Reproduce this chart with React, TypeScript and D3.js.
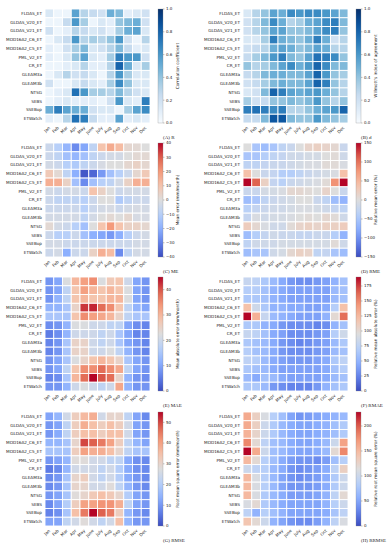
import React from "react";
import * as d3 from "d3";

const rows = ["FLDAS_ET","GLDAS_V20_ET","GLDAS_V21_ET","MOD16A2_C6_ET","MOD16A2_C5_ET","PML_V2_ET","CR_ET","GLEAM3a","GLEAM3b","NTSG","SEBS","SSEBop","ETWatch"];
const months = ["Jan","Feb","Mar","Apr","May","June","July","Aug","Sep","Oct","Nov","Dec"];

const rData = [
  [0.15,0.05,0.05,0.55,0.3,0.25,0.2,0.5,0.45,0.1,0.15,0.2],
  [0.05,0.05,0.25,0.6,0.35,0.05,0.15,0.1,0.4,0.45,0.5,0.2],
  [0.2,0.05,0.1,0.3,0.25,0.15,0.2,0.1,0.35,0.5,0.55,0.15],
  [0.05,0.15,0.25,0.6,0.3,0.35,0.3,0.4,0.6,0.2,0.05,0.3],
  [0.1,0.05,0.2,0.35,0.45,0.15,0.2,0.3,0.45,0.25,0.1,0.15],
  [0.1,0.05,0.15,0.4,0.55,0.15,0.1,0.35,0.7,0.6,0.6,0.2],
  [0.05,0.05,0.1,0.15,0.3,0.1,0.1,0.3,0.8,0.5,0.15,0.35],
  [0.05,0.15,0.3,0.2,0.25,0.15,0.05,0.3,0.6,0.35,0.15,0.15],
  [0.2,0.05,0.05,0.15,0.25,0.15,0.1,0.35,0.65,0.4,0.15,0.15],
  [0.05,0.1,0.15,0.75,0.6,0.35,0.35,0.3,0.45,0.3,0.2,0.15],
  [0.05,0.1,0.15,0.1,0.1,0.1,0.05,0.2,0.6,0.15,0.1,0.7],
  [0.5,0.7,0.55,0.5,0.5,0.2,0.15,0.15,0.05,0.35,0.55,0.65],
  [0.1,0.05,0.3,0.75,0.7,0.25,0.1,0.1,0.55,0.1,0.15,0.1],
];
const dData = [
  [0.15,0.3,0.4,0.55,0.5,0.65,0.6,0.65,0.65,0.6,0.55,0.45],
  [0.2,0.3,0.45,0.65,0.5,0.3,0.35,0.5,0.55,0.65,0.7,0.45],
  [0.2,0.3,0.4,0.55,0.55,0.4,0.4,0.45,0.55,0.65,0.7,0.4],
  [0.15,0.15,0.35,0.7,0.5,0.45,0.4,0.5,0.7,0.5,0.2,0.3],
  [0.2,0.25,0.3,0.5,0.55,0.5,0.4,0.45,0.55,0.5,0.3,0.3],
  [0.25,0.35,0.45,0.6,0.7,0.45,0.4,0.55,0.75,0.7,0.65,0.4],
  [0.4,0.3,0.35,0.45,0.55,0.65,0.5,0.6,0.8,0.65,0.45,0.45],
  [0.25,0.3,0.45,0.5,0.5,0.45,0.45,0.55,0.8,0.6,0.4,0.35],
  [0.2,0.25,0.35,0.45,0.5,0.45,0.45,0.55,0.8,0.7,0.4,0.3],
  [0.15,0.2,0.45,0.8,0.7,0.55,0.5,0.55,0.6,0.5,0.4,0.3],
  [0.35,0.2,0.25,0.4,0.4,0.45,0.4,0.45,0.6,0.4,0.3,0.4],
  [0.7,0.75,0.7,0.65,0.7,0.3,0.3,0.4,0.5,0.55,0.6,0.8],
  [0.25,0.25,0.45,0.85,0.85,0.45,0.4,0.4,0.6,0.45,0.4,0.35],
];
const meData = [
  [-5,-10,-18,-28,-22,-8,10,16,12,3,2,0],
  [-5,-8,-15,-18,-15,-8,-5,-3,-3,0,2,2],
  [-3,-5,-10,-12,-8,-5,-2,0,0,3,5,3],
  [8,2,-8,-20,-38,-35,-25,-15,-10,-5,3,8],
  [15,15,5,-15,-28,-15,-10,-8,-3,5,15,15],
  [-3,-5,-3,-3,-5,10,5,0,-5,-3,-3,-3],
  [-5,-8,-8,-8,-10,-5,0,0,-12,-8,-5,-5],
  [-5,-5,-5,-5,-10,-5,-3,-2,-5,-3,-2,-3],
  [-3,-3,-3,-3,-8,-3,0,2,0,3,-2,-2],
  [2,-3,-5,-10,-15,0,10,20,10,5,5,3],
  [-5,-10,-10,-5,-15,-20,-22,-25,-20,-10,-5,-3],
  [-3,-3,-5,-5,-5,-5,-5,-5,-5,-5,-3,-3],
  [-5,-3,-20,-5,-5,5,15,12,-28,-8,-3,-3],
];
const rmeData = [
  [0,-50,-60,-50,-30,-20,0,15,20,15,10,-20],
  [-50,-50,-40,-30,-25,-15,-15,-10,-10,0,5,-15],
  [-30,-30,-25,-20,-20,-15,-10,-5,-5,5,5,-5],
  [40,0,-20,-25,-40,-40,-30,-20,-15,-10,-5,40],
  [150,110,20,-25,-35,-20,-15,-10,-5,5,80,150],
  [-20,-20,-10,-10,-5,10,10,5,0,15,0,-20],
  [-60,-50,-30,-20,-15,-10,0,0,-20,-30,-60,-70],
  [-35,-25,-20,-15,-15,-10,-5,-5,-10,-15,-25,-30],
  [-25,-5,-15,-10,-10,-5,0,5,0,10,5,-15],
  [25,10,-5,-15,-15,5,15,20,15,20,20,25],
  [-60,-40,-25,-15,-20,-20,-25,-25,-20,-20,-40,-70],
  [-30,-15,-15,-15,-10,-10,-10,-10,-10,-10,5,-15],
  [-60,-50,-50,-15,-10,10,20,15,-30,-25,-50,-60],
];
const maeData = [
  [8,10,22,30,33,35,22,27,28,20,10,8],
  [8,10,18,28,33,30,28,30,28,22,10,8],
  [8,12,18,28,30,28,28,30,30,22,10,8],
  [12,12,15,25,42,43,38,35,28,18,12,10],
  [15,15,15,28,35,33,32,30,25,18,15,15],
  [7,8,12,22,22,20,20,18,18,10,7,6],
  [5,7,12,20,20,20,18,20,15,10,6,6],
  [6,8,15,25,25,20,18,20,15,10,8,6],
  [6,8,15,25,25,20,20,22,18,12,8,6],
  [8,10,15,22,25,28,30,28,25,15,10,8],
  [8,10,18,28,35,35,38,35,32,18,10,8],
  [6,7,15,30,38,45,40,38,25,12,8,7],
  [8,8,12,20,22,20,18,20,32,12,8,8],
];
const rmaeData = [
  [80,75,65,55,45,35,30,30,35,40,50,60],
  [70,70,60,50,45,40,40,40,40,40,55,60],
  [65,65,60,50,45,40,40,40,40,40,55,60],
  [120,85,65,50,50,45,45,40,40,45,70,120],
  [190,130,80,55,50,45,40,40,40,50,100,160],
  [65,65,50,45,35,30,30,30,25,30,50,60],
  [80,75,60,45,40,30,30,30,35,40,70,85],
  [65,60,55,45,35,30,25,30,35,40,55,65],
  [70,60,55,45,35,30,30,30,35,40,55,60],
  [75,70,55,45,40,35,35,35,40,45,65,75],
  [65,60,55,45,40,40,40,40,40,45,60,70],
  [55,45,60,55,45,40,40,40,40,45,55,60],
  [65,65,55,35,30,25,25,25,35,50,60,65],
];
const rmseData = [
  [12,15,25,32,36,38,25,30,30,22,12,8],
  [10,12,22,32,38,35,32,35,32,25,12,10],
  [10,13,22,32,35,35,32,35,35,25,12,10],
  [15,15,18,30,50,48,45,40,32,22,15,12],
  [18,18,18,32,40,38,38,35,30,22,18,18],
  [10,12,15,28,28,25,25,22,22,13,9,8],
  [6,8,15,25,25,25,22,25,20,13,9,8],
  [8,10,18,30,32,25,22,25,20,13,10,8],
  [8,10,18,30,30,25,25,28,22,15,10,8],
  [10,12,18,28,30,33,35,33,30,20,12,10],
  [8,12,20,32,40,40,42,42,38,22,12,10],
  [7,9,18,35,45,55,48,45,32,15,10,8],
  [12,12,22,25,28,25,22,25,35,15,10,10],
];
const rrmseData = [
  [160,130,110,85,70,50,40,45,50,55,60,65],
  [160,130,100,80,65,55,50,50,55,60,70,80],
  [155,125,100,80,65,55,50,50,55,60,70,80],
  [180,120,90,70,65,55,50,50,55,65,100,165],
  [228,160,100,70,65,55,50,50,55,65,120,180],
  [150,120,85,70,55,45,40,40,35,45,70,85],
  [100,90,85,65,55,40,35,40,45,55,90,130],
  [150,110,85,65,50,40,35,40,45,55,80,100],
  [150,110,85,65,50,40,40,40,45,55,80,100],
  [150,110,80,65,55,45,45,45,50,60,90,120],
  [110,120,80,65,55,50,50,50,50,60,85,100],
  [90,60,85,70,60,50,50,50,50,55,75,90],
  [140,120,100,60,50,40,35,35,45,60,90,110],
];

const blues = ["#f7fbff","#deebf7","#c6dbef","#9ecae1","#6baed6","#4292c6","#2171b5","#08519c","#08306b"];
const coolwarm = ["#3b4cc0","#6282ea","#8db0fe","#b8d0f9","#dddddd","#f5c4ad","#f49a7b","#de604d","#b40426"];

const panels = [
  { data: rData, domain: [0, 1], ticks: [0, 0.2, 0.4, 0.6, 0.8, 1.0], fmt: (v: number) => v.toFixed(1), cmap: blues, label: "Correlation coefficient", caption: "(A) R", col: 0, row: 0 },
  { data: dData, domain: [0, 1], ticks: [0, 0.2, 0.4, 0.6, 0.8, 1.0], fmt: (v: number) => v.toFixed(1), cmap: blues, label: "Willmott's index of agreement", caption: "(B) d", col: 1, row: 0 },
  { data: meData, domain: [-40, 40], ticks: [-40, -30, -20, -10, 0, 10, 20, 30, 40], fmt: (v: number) => String(v).replace("-", "\u2212"), cmap: coolwarm, label: "Mean error (mm/month)", caption: "(C) ME", col: 0, row: 1 },
  { data: rmeData, domain: [-150, 150], ticks: [-150, -100, -50, 0, 50, 100, 150], fmt: (v: number) => String(v).replace("-", "\u2212"), cmap: coolwarm, label: "Relative mean error (%)", caption: "(D) RME", col: 1, row: 1 },
  { data: maeData, domain: [0, 45], ticks: [0, 10, 20, 30, 40], fmt: (v: number) => String(v), cmap: coolwarm, label: "Mean absolute error (mm/month)", caption: "(E) MAE", col: 0, row: 2 },
  { data: rmaeData, domain: [0, 190], ticks: [0, 25, 50, 75, 100, 125, 150, 175], fmt: (v: number) => String(v), cmap: coolwarm, label: "Relative mean absolute error (%)", caption: "(F) RMAE", col: 1, row: 2 },
  { data: rmseData, domain: [0, 55], ticks: [0, 10, 20, 30, 40, 50], fmt: (v: number) => String(v), cmap: coolwarm, label: "Root mean square error (mm/month)", caption: "(G) RMSE", col: 0, row: 3 },
  { data: rrmseData, domain: [0, 228], ticks: [0, 50, 100, 150, 200], fmt: (v: number) => String(v), cmap: coolwarm, label: "Relative root mean square error (%)", caption: "(H) RRMSE", col: 1, row: 3 },
];

const gridX = [45, 243];
const gridY = [9, 143, 277, 412];
const gridW = 105;
const gridH = 114;
const cbOffset = 113;
const cbW = 5;
const font = "DejaVu Sans, sans-serif";

function Panel({ p, idx }: { p: any; idx: number }) {
  const x0 = gridX[p.col];
  const y0 = gridY[p.row];
  const xs = d3.scaleBand().domain(months).range([x0, x0 + gridW]);
  const ys = d3.scaleBand().domain(rows).range([y0, y0 + gridH]);
  const interp = d3.piecewise(d3.interpolateRgb, p.cmap);
  const color = d3.scaleSequential(interp).domain(p.domain);
  const cbX = x0 + cbOffset;
  const cbScale = d3.scaleLinear().domain(p.domain).range([y0 + gridH, y0]);
  const gid = "cb" + idx;
  const stops = d3.range(0, 1.0001, 0.05);
  return (
    <g>
      {rows.map((r, i) =>
        months.map((m, j) => (
          <rect key={r + m} x={xs(m)} y={ys(r)} width={xs.bandwidth()} height={ys.bandwidth()}
            fill={color(p.data[i][j])} stroke="#fff" strokeWidth={0.9} />
        ))
      )}
      {rows.map((r) => (
        <text key={r} x={x0 - 3} y={(ys(r) as number) + ys.bandwidth() / 2} dy="0.35em"
          textAnchor="end" fontSize={4.2} fontFamily={font} fill="#222">{r}</text>
      ))}
      {months.map((m) => {
        const cx = (xs(m) as number) + xs.bandwidth() / 2;
        const cy = y0 + gridH + 4;
        return (
          <text key={m} x={cx} y={cy} transform={`rotate(-45 ${cx} ${cy})`} textAnchor="end" dy="0.35em"
            fontSize={4.2} fontFamily={font} fill="#222">{m}</text>
        );
      })}
      <defs>
        <linearGradient id={gid} x1="0" y1="1" x2="0" y2="0">
          {stops.map((t) => (
            <stop key={t} offset={t} stopColor={interp(t)} />
          ))}
        </linearGradient>
      </defs>
      <rect x={cbX} y={y0} width={cbW} height={gridH} fill={`url(#${gid})`} stroke="#888" strokeWidth={0.3} />
      {p.ticks.map((t: number) => (
        <g key={t}>
          <line x1={cbX + cbW} x2={cbX + cbW + 1.5} y1={cbScale(t)} y2={cbScale(t)} stroke="#333" strokeWidth={0.3} />
          <text x={cbX + cbW + 3} y={cbScale(t)} dy="0.35em" fontSize={4} fontFamily={font} fill="#222">{p.fmt(t)}</text>
        </g>
      ))}
      <text x={cbX + 21} y={y0 + gridH / 2} transform={`rotate(-90 ${cbX + 21} ${y0 + gridH / 2})`}
        textAnchor="middle" fontSize={4.2} fontFamily={font} fill="#222">{p.label}</text>
      <text x={x0 + 118} y={y0 + gridH + 16} fontSize={5} fontFamily="Liberation Serif, serif" fill="#222">{p.caption}</text>
    </g>
  );
}

export default function App() {
  return (
    <svg width={392} height={550} style={{ position: "absolute", left: 0, top: 0, background: "#fff" }}>
      <rect width={392} height={550} fill="#fff" />
      {panels.map((p, i) => (
        <Panel key={i} p={p} idx={i} />
      ))}
    </svg>
  );
}
